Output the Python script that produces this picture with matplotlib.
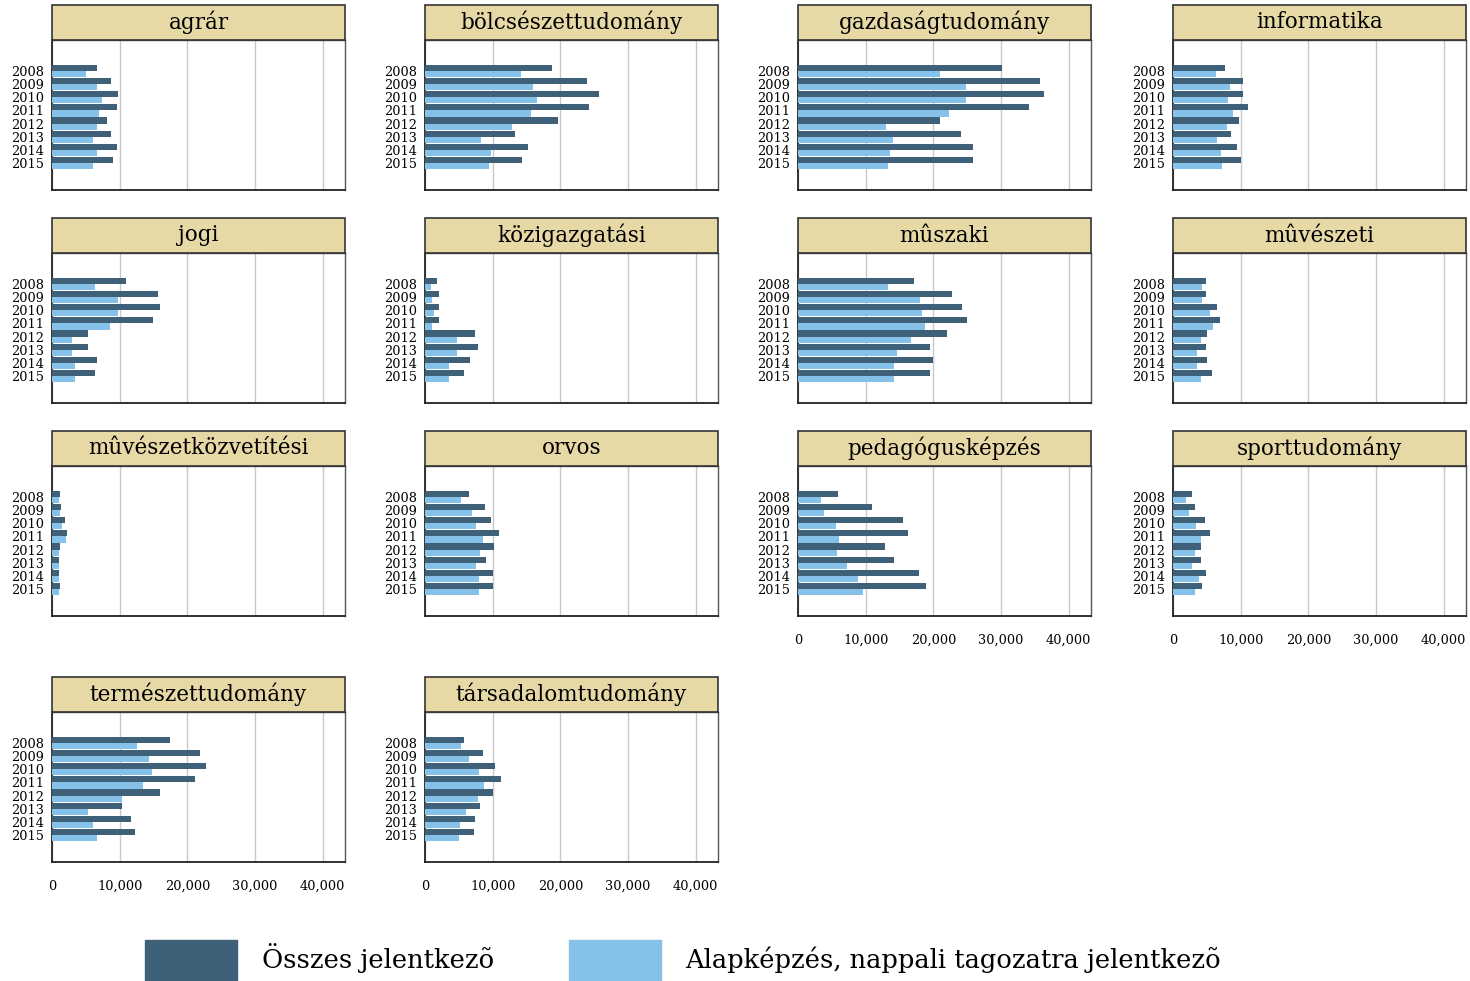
import numpy as np
import matplotlib
matplotlib.use("Agg")
import matplotlib.pyplot as plt
from matplotlib.patches import Rectangle, Patch

plt.rcParams['font.family'] = ['DejaVu Serif']

years = ['2008', '2009', '2010', '2011', '2012', '2013', '2014', '2015']

fields = ['agrár', 'bölcsészettudomány', 'gazdaságtudomány', 'informatika',
          'jogi', 'közigazgatási', 'mûszaki', 'mûvészeti',
          'mûvészetközvetítési', 'orvos', 'pedagógusképzés', 'sporttudomány',
          'természettudomány', 'társadalomtudomány']

# összes jelentkező, 2008-2015
osszes = [
    [6700, 8700, 9800, 9600, 8200, 8700, 9600, 9000],
    [18800, 24000, 25700, 24200, 19700, 13300, 15200, 14400],
    [30200, 35800, 36400, 34100, 21000, 24100, 25900, 25900],
    [7700, 10300, 10300, 11100, 9700, 8600, 9400, 10000],
    [11000, 15600, 15900, 14900, 5300, 5300, 6700, 6300],
    [1800, 2100, 2100, 2100, 7400, 7900, 6700, 5700],
    [17100, 22800, 24200, 25000, 22000, 19500, 20000, 19500],
    [4900, 4900, 6500, 7000, 5000, 4900, 5000, 5700],
    [1250, 1400, 1900, 2150, 1250, 1000, 1100, 1200],
    [6500, 8800, 9800, 11000, 10200, 9000, 10100, 10100],
    [5900, 11000, 15500, 16300, 12900, 14200, 17900, 18900],
    [2800, 3300, 4800, 5400, 4100, 4100, 4900, 4300],
    [17500, 21900, 22800, 21200, 15900, 10300, 11700, 12200],
    [5800, 8500, 10300, 11300, 10100, 8100, 7400, 7200],
]

# alapképzés, nappali tagozatra jelentkező
alapkepzes = [
    [5000, 6600, 7400, 7000, 6700, 6000, 6700, 6000],
    [14200, 16000, 16600, 15700, 12800, 8300, 9700, 9400],
    [21000, 24900, 24900, 22300, 13000, 14000, 13600, 13300],
    [6300, 8400, 8100, 8800, 8000, 6500, 7100, 7200],
    [6300, 9700, 9700, 8500, 3000, 3000, 3400, 3400],
    [900, 1000, 1300, 1000, 4700, 4700, 3600, 3500],
    [13300, 18000, 18300, 18800, 16700, 14600, 14200, 14200],
    [4300, 4300, 5400, 5900, 4100, 3500, 3500, 4100],
    [1000, 1250, 1500, 2000, 1100, 1000, 1000, 1000],
    [5300, 6900, 7600, 8500, 8100, 7500, 8000, 8000],
    [3400, 3900, 5600, 6000, 5700, 7300, 8900, 9600],
    [1900, 2300, 3400, 4100, 3200, 2800, 3900, 3300],
    [12600, 14400, 14800, 13500, 10400, 5300, 6000, 6700],
    [5300, 6500, 8000, 8700, 7800, 6000, 5100, 5000],
]

dark = '#3e6179'
light = '#85c1e9'
strip_color = '#e6d9a6'

W, H = 1470, 981
fig = plt.figure(figsize=(W / 100, H / 100), dpi=100)

col_left = [52, 425, 798, 1173]
row_top = [40, 253, 466, 712]
ax_w, ax_h, strip_h = 293, 150, 35
# panels that carry the x tick labels
labelled = {10, 11, 12, 13}

y = np.arange(len(years))
for i, name in enumerate(fields):
    r, c = divmod(i, 4)
    ax = fig.add_axes([col_left[c] / W, 1 - (row_top[r] + ax_h) / H, ax_w / W, ax_h / H])
    ax.barh(y - 0.235, osszes[i], height=0.47, color=dark, zorder=3)
    ax.barh(y + 0.235, alapkepzes[i], height=0.47, color=light, zorder=3)
    ax.set_xlim(0, 43300)
    ax.set_ylim(9.05, -2.36)
    ax.set_xticks([0, 10000, 20000, 30000, 40000])
    ax.set_yticks(y)
    ax.set_yticklabels(years)
    ax.grid(axis='x', color='#c8c8c8', lw=1, zorder=0)
    ax.tick_params(axis='y', length=0, pad=6, labelsize=9.3)
    ax.tick_params(axis='x', length=0, pad=13, labelsize=9.3)
    if i in labelled:
        ax.set_xticklabels(['0', '10,000', '20,000', '30,000', '40,000'])
    else:
        ax.set_xticklabels([])
    for s in ['left', 'bottom']:
        ax.spines[s].set_color('#222222')
        ax.spines[s].set_linewidth(1.3)
    for s in ['top', 'right']:
        ax.spines[s].set_color('#555555')
        ax.spines[s].set_linewidth(1.0)
    # strip with panel title
    ax.add_patch(Rectangle((0, 1), 1, strip_h / ax_h, transform=ax.transAxes,
                           facecolor=strip_color, edgecolor='#333333', lw=1.2,
                           clip_on=False, zorder=5))
    ax.text(0.5, 1 + strip_h / ax_h / 2, name, transform=ax.transAxes,
            ha='center', va='center', fontsize=15.5, zorder=6)

handles = [Patch(color=dark), Patch(color=light)]
fig.legend(handles, ['Összes jelentkezõ', 'Alapképzés, nappali tagozatra jelentkezõ'],
           loc='upper left', bbox_to_anchor=(145 / W, 1 - 940 / H), ncol=2,
           frameon=False, fontsize=18.5, borderpad=0, borderaxespad=0,
           handlelength=3.58, handleheight=2.05, handletextpad=0.97, columnspacing=2.9)

fig.savefig('out.png', dpi=100)
